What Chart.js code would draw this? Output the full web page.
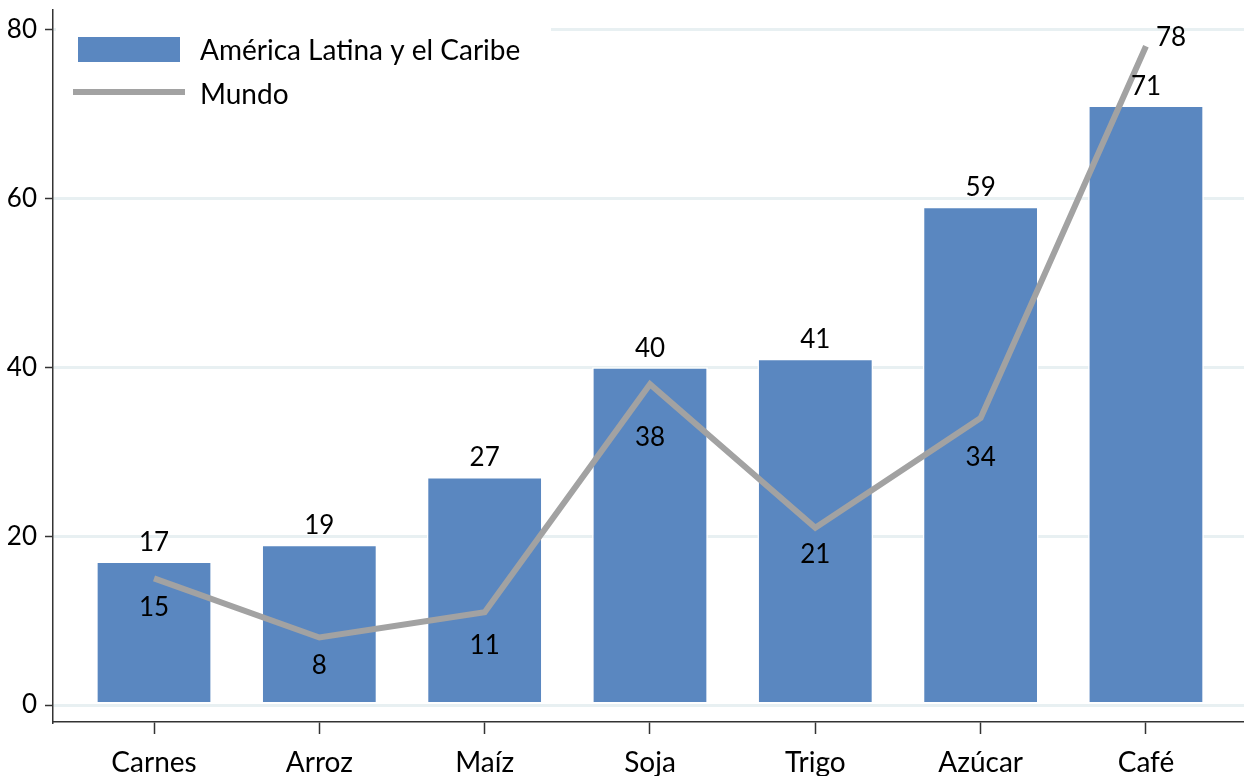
<!DOCTYPE html>
<html>
<head>
<meta charset="utf-8">
<script src="https://cdn.jsdelivr.net/npm/chart.js@4.4.1/dist/chart.umd.min.js"></script>
<style>
html,body{margin:0;padding:0;background:#fff;}
#wrap{width:1244px;height:776px;}
</style>
</head>
<body>
<div id="wrap"><canvas id="c" width="1244" height="776"></canvas></div>
<script>
const categories = ['Carnes', 'Arroz', 'Maíz', 'Soja', 'Trigo', 'Azúcar', 'Café'];
const latamValues = [17, 19, 27, 40, 41, 59, 71];
const mundoValues = [15, 8, 11, 38, 21, 34, 78];
const yTicks = [0, 20, 40, 60, 80];
const seriesNames = ['América Latina y el Caribe', 'Mundo'];

const FONT = 'Lato, "Open Sans", sans-serif';
const barColor = '#5a87c0';
const lineColor = '#a2a2a2';
const axisColor = '#333333';
const gridColor = '#e8f0f2';
// label placement for the "Mundo" series (style only: pixel distance below the point; null = to the right)
const mundoLabelGap = [29, 28, 33, 53, 27, 40, null];

const toXY = vals => vals.map((v, i) => ({x: i, y: v}));

const labelsPlugin = {
  id: 'dataLabels',
  afterDatasetsDraw(chart) {
    const ctx = chart.ctx;
    ctx.save();
    ctx.font = '26px ' + FONT;
    ctx.fillStyle = '#000';
    ctx.textAlign = 'center';
    ctx.textBaseline = 'middle';
    const barMeta = chart.getDatasetMeta(0);
    barMeta.data.forEach((el, i) => {
      ctx.fillText(String(latamValues[i]), el.x, el.y - 19);
    });
    const lineMeta = chart.getDatasetMeta(1);
    lineMeta.data.forEach((el, i) => {
      const gap = mundoLabelGap[i];
      if (gap === null) {
        ctx.textAlign = 'left';
        ctx.fillText(String(mundoValues[i]), el.x + 10, el.y - 9);
        ctx.textAlign = 'center';
      } else {
        ctx.fillText(String(mundoValues[i]), el.x, el.y + gap);
      }
    });
    ctx.restore();
  }
};

const legendPlugin = {
  id: 'customLegend',
  beforeDatasetsDraw(chart) {
    const ctx = chart.ctx;
    const a = chart.chartArea;
    ctx.save();
    ctx.fillStyle = '#fff';
    ctx.fillRect(a.left + 3, a.top + 5, 495, 105);
    ctx.fillStyle = barColor;
    ctx.fillRect(a.left + 25, a.top + 27, 102, 25);
    ctx.strokeStyle = lineColor;
    ctx.lineWidth = 6;
    ctx.beginPath();
    ctx.moveTo(a.left + 20, a.top + 82);
    ctx.lineTo(a.left + 132, a.top + 82);
    ctx.stroke();
    ctx.fillStyle = '#000';
    ctx.font = '28px ' + FONT;
    ctx.textAlign = 'left';
    ctx.textBaseline = 'middle';
    ctx.fillText(seriesNames[0], a.left + 147, a.top + 41);
    ctx.fillText(seriesNames[1], a.left + 147, a.top + 85);
    ctx.restore();
  }
};

new Chart(document.getElementById('c'), {
  type: 'bar',
  data: {
    datasets: [
      {
        type: 'bar',
        label: seriesNames[0],
        data: toXY(latamValues),
        backgroundColor: barColor,
        borderColor: '#ffffff',
        borderWidth: 1.5,
        borderSkipped: false,
        categoryPercentage: 1,
        barPercentage: 0.7,
        order: 2
      },
      {
        type: 'line',
        label: seriesNames[1],
        data: toXY(mundoValues),
        borderColor: lineColor,
        borderWidth: 6,
        pointRadius: 0,
        tension: 0,
        borderJoinStyle: 'miter',
        order: 1
      }
    ]
  },
  options: {
    responsive: false,
    animation: false,
    events: [],
    layout: {padding: {top: 10, left: 0, right: 0, bottom: 0}},
    plugins: {legend: {display: false}, tooltip: {enabled: false}},
    scales: {
      x: {
        type: 'linear',
        offset: false,
        min: -0.611,
        max: 6.593,
        afterBuildTicks: s => { s.ticks = categories.map((c, i) => ({value: i})); },
        afterFit: s => { s.height = 54; s.paddingLeft = 0; s.paddingRight = 0; },
        ticks: {
          callback: v => categories[v],
          font: {family: FONT, size: 28},
          color: '#000',
          padding: 12,
          autoSkip: false,
          maxRotation: 0
        },
        grid: {offset: false, drawOnChartArea: false, tickLength: 12, tickColor: axisColor, tickWidth: 1.5},
        border: {color: axisColor, width: 1.5}
      },
      y: {
        min: -2,
        max: 82.3,
        afterBuildTicks: s => { s.ticks = yTicks.map(v => ({value: v})); },
        afterFit: s => { s.width = 53; s.paddingTop = 0; s.paddingBottom = 0; },
        ticks: {
          font: {family: FONT, size: 26},
          color: '#000',
          padding: 8
        },
        grid: {color: gridColor, lineWidth: 3, tickLength: 8, tickColor: axisColor, tickWidth: 1.5},
        border: {color: axisColor, width: 1.5}
      }
    }
  },
  plugins: [legendPlugin, labelsPlugin]
});
</script>
</body>
</html>
